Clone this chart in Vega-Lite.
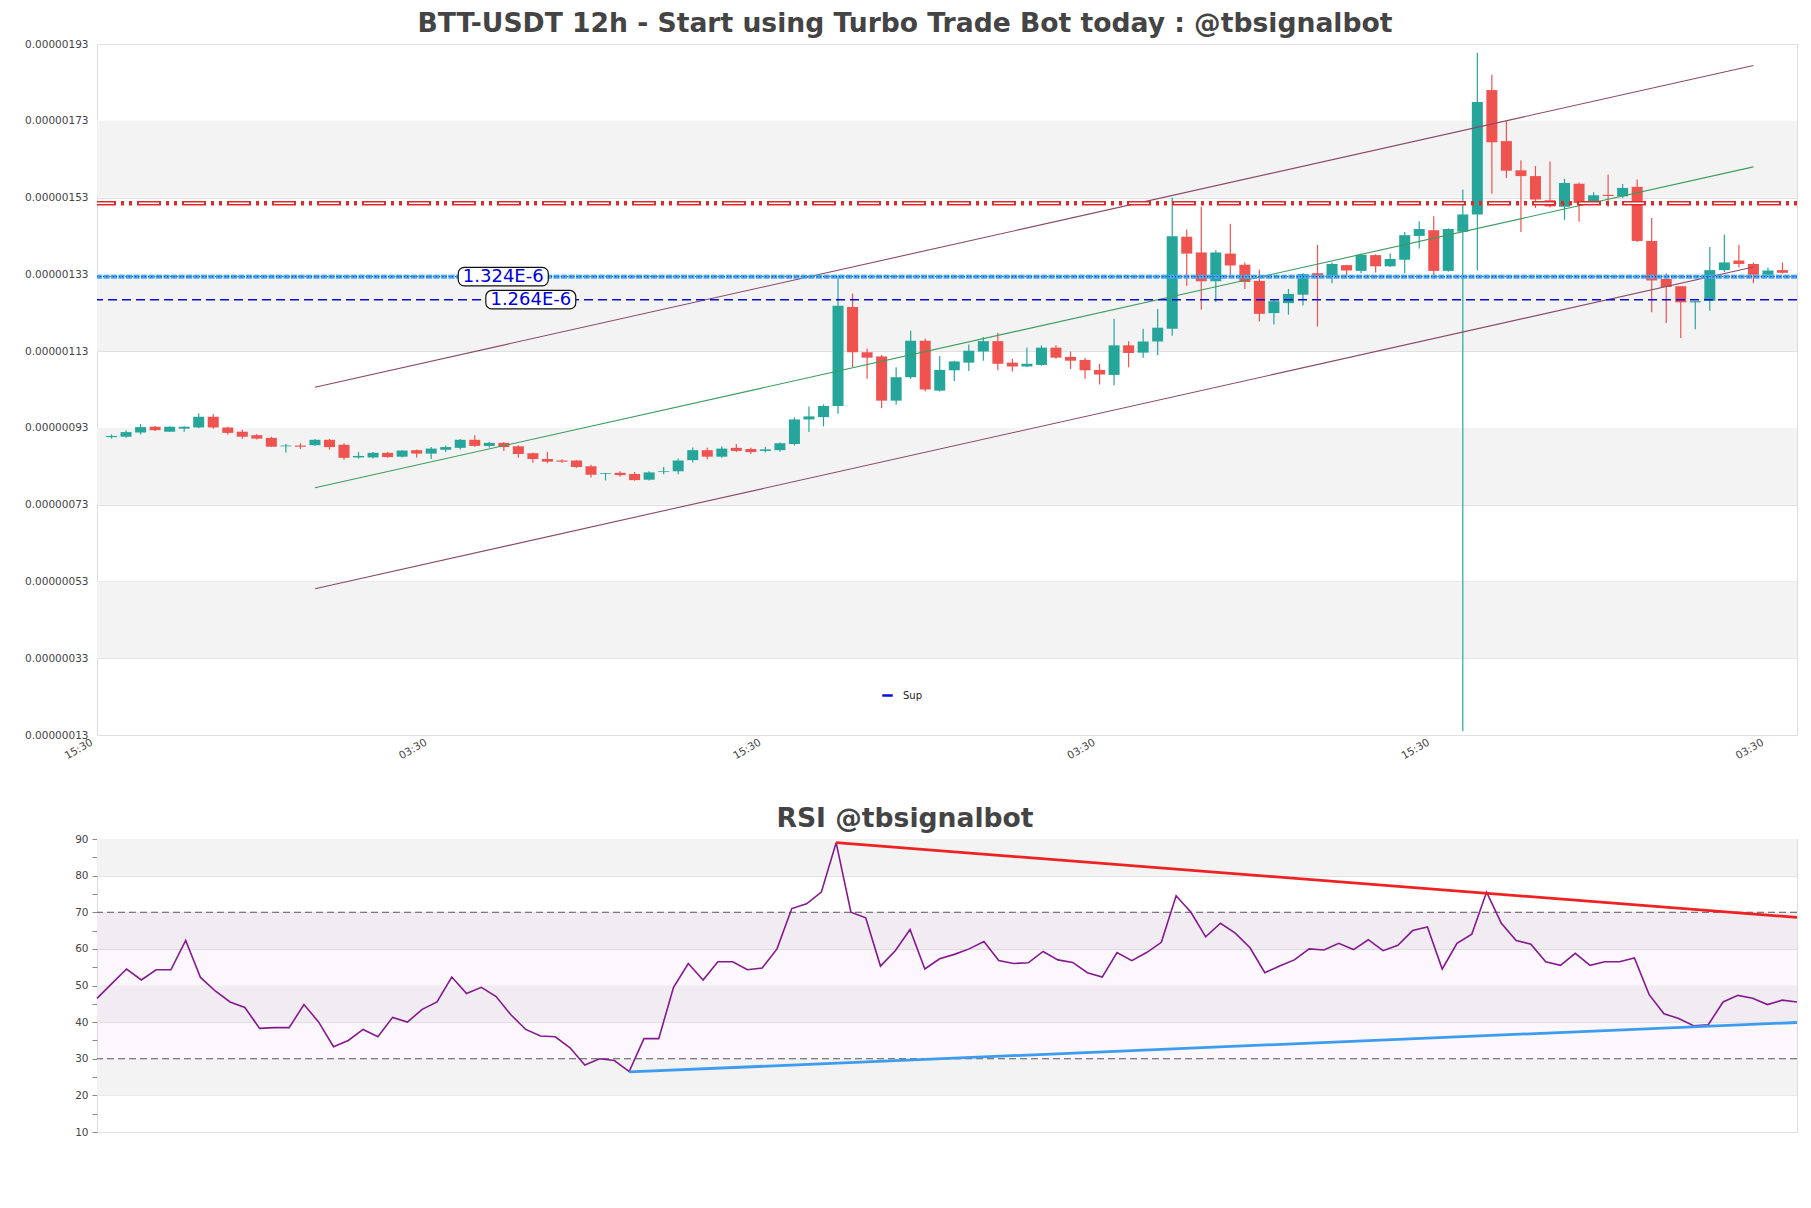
{
  "$schema": "https://vega.github.io/schema/vega-lite/v6.json",
  "background": "white",
  "padding": {"left": 24, "top": 10, "right": 14, "bottom": 0},
  "config": {
    "font": "DejaVu Sans",
    "view": {"stroke": "#dddddd", "strokeWidth": 1},
    "axis": {"labelFont": "DejaVu Sans", "labelColor": "#444444", "labelFontSize": 10.5, "domain": false},
    "title": {"font": "DejaVu Sans", "fontWeight": "bold", "fontSize": 26.6, "color": "#444444", "offset": 1, "anchor": "middle", "dx": -42},
    "legend": {"labelFont": "DejaVu Sans"}
  },
  "resolve": {"scale": {"color": "independent"}, "legend": {"color": "independent"}},
  "spacing": 43,
  "datasets": {
    "candles": [
      {"i":0,"o":9.06e-7,"h":9.13e-7,"l":9.02e-7,"c":9.09e-7},
      {"i":1,"o":9.07e-7,"h":9.24e-7,"l":9.04e-7,"c":9.19e-7},
      {"i":2,"o":9.18e-7,"h":9.40e-7,"l":9.13e-7,"c":9.32e-7},
      {"i":3,"o":9.33e-7,"h":9.35e-7,"l":9.22e-7,"c":9.24e-7},
      {"i":4,"o":9.20e-7,"h":9.34e-7,"l":9.19e-7,"c":9.33e-7},
      {"i":5,"o":9.28e-7,"h":9.34e-7,"l":9.20e-7,"c":9.33e-7},
      {"i":6,"o":9.31e-7,"h":9.68e-7,"l":9.29e-7,"c":9.59e-7},
      {"i":7,"o":9.59e-7,"h":9.66e-7,"l":9.28e-7,"c":9.31e-7},
      {"i":8,"o":9.31e-7,"h":9.33e-7,"l":9.13e-7,"c":9.17e-7},
      {"i":9,"o":9.20e-7,"h":9.25e-7,"l":9.02e-7,"c":9.07e-7},
      {"i":10,"o":9.11e-7,"h":9.14e-7,"l":9.00e-7,"c":9.02e-7},
      {"i":11,"o":9.04e-7,"h":9.07e-7,"l":8.80e-7,"c":8.81e-7},
      {"i":12,"o":8.82e-7,"h":8.88e-7,"l":8.66e-7,"c":8.84e-7},
      {"i":13,"o":8.84e-7,"h":8.90e-7,"l":8.75e-7,"c":8.81e-7},
      {"i":14,"o":8.85e-7,"h":9.01e-7,"l":8.83e-7,"c":8.99e-7},
      {"i":15,"o":8.99e-7,"h":9.01e-7,"l":8.73e-7,"c":8.80e-7},
      {"i":16,"o":8.86e-7,"h":8.90e-7,"l":8.47e-7,"c":8.52e-7},
      {"i":17,"o":8.53e-7,"h":8.67e-7,"l":8.50e-7,"c":8.57e-7},
      {"i":18,"o":8.53e-7,"h":8.67e-7,"l":8.50e-7,"c":8.65e-7},
      {"i":19,"o":8.65e-7,"h":8.67e-7,"l":8.52e-7,"c":8.54e-7},
      {"i":20,"o":8.55e-7,"h":8.72e-7,"l":8.53e-7,"c":8.71e-7},
      {"i":21,"o":8.72e-7,"h":8.74e-7,"l":8.53e-7,"c":8.63e-7},
      {"i":22,"o":8.63e-7,"h":8.80e-7,"l":8.49e-7,"c":8.76e-7},
      {"i":23,"o":8.73e-7,"h":8.84e-7,"l":8.67e-7,"c":8.80e-7},
      {"i":24,"o":8.78e-7,"h":9.01e-7,"l":8.74e-7,"c":8.99e-7},
      {"i":25,"o":8.99e-7,"h":9.11e-7,"l":8.81e-7,"c":8.83e-7},
      {"i":26,"o":8.83e-7,"h":8.93e-7,"l":8.79e-7,"c":8.91e-7},
      {"i":27,"o":8.91e-7,"h":8.93e-7,"l":8.70e-7,"c":8.80e-7},
      {"i":28,"o":8.82e-7,"h":8.85e-7,"l":8.52e-7,"c":8.62e-7},
      {"i":29,"o":8.64e-7,"h":8.66e-7,"l":8.39e-7,"c":8.49e-7},
      {"i":30,"o":8.49e-7,"h":8.67e-7,"l":8.38e-7,"c":8.42e-7},
      {"i":31,"o":8.45e-7,"h":8.48e-7,"l":8.39e-7,"c":8.42e-7},
      {"i":32,"o":8.45e-7,"h":8.46e-7,"l":8.26e-7,"c":8.28e-7},
      {"i":33,"o":8.30e-7,"h":8.34e-7,"l":8.01e-7,"c":8.08e-7},
      {"i":34,"o":8.10e-7,"h":8.13e-7,"l":7.93e-7,"c":8.12e-7},
      {"i":35,"o":8.13e-7,"h":8.17e-7,"l":8.03e-7,"c":8.07e-7},
      {"i":36,"o":8.10e-7,"h":8.15e-7,"l":7.92e-7,"c":7.94e-7},
      {"i":37,"o":7.95e-7,"h":8.17e-7,"l":7.93e-7,"c":8.14e-7},
      {"i":38,"o":8.15e-7,"h":8.28e-7,"l":8.09e-7,"c":8.17e-7},
      {"i":39,"o":8.17e-7,"h":8.50e-7,"l":8.09e-7,"c":8.45e-7},
      {"i":40,"o":8.46e-7,"h":8.79e-7,"l":8.40e-7,"c":8.72e-7},
      {"i":41,"o":8.72e-7,"h":8.78e-7,"l":8.48e-7,"c":8.55e-7},
      {"i":42,"o":8.55e-7,"h":8.82e-7,"l":8.52e-7,"c":8.76e-7},
      {"i":43,"o":8.78e-7,"h":8.88e-7,"l":8.67e-7,"c":8.70e-7},
      {"i":44,"o":8.75e-7,"h":8.78e-7,"l":8.62e-7,"c":8.67e-7},
      {"i":45,"o":8.70e-7,"h":8.80e-7,"l":8.66e-7,"c":8.74e-7},
      {"i":46,"o":8.72e-7,"h":8.92e-7,"l":8.68e-7,"c":8.90e-7},
      {"i":47,"o":8.88e-7,"h":9.57e-7,"l":8.84e-7,"c":9.52e-7},
      {"i":48,"o":9.52e-7,"h":9.86e-7,"l":9.19e-7,"c":9.60e-7},
      {"i":49,"o":9.58e-7,"h":9.91e-7,"l":9.34e-7,"c":9.87e-7},
      {"i":50,"o":9.87e-7,"h":13.27e-7,"l":9.67e-7,"c":12.48e-7},
      {"i":51,"o":12.45e-7,"h":12.80e-7,"l":10.88e-7,"c":11.27e-7},
      {"i":52,"o":11.27e-7,"h":11.37e-7,"l":10.58e-7,"c":11.13e-7},
      {"i":53,"o":11.16e-7,"h":11.20e-7,"l":9.81e-7,"c":10.01e-7},
      {"i":54,"o":10.01e-7,"h":10.88e-7,"l":9.90e-7,"c":10.62e-7},
      {"i":55,"o":10.62e-7,"h":11.83e-7,"l":10.58e-7,"c":11.57e-7},
      {"i":56,"o":11.57e-7,"h":11.62e-7,"l":10.25e-7,"c":10.30e-7},
      {"i":57,"o":10.27e-7,"h":11.17e-7,"l":10.25e-7,"c":10.81e-7},
      {"i":58,"o":10.80e-7,"h":11.05e-7,"l":10.52e-7,"c":11.03e-7},
      {"i":59,"o":11.00e-7,"h":11.47e-7,"l":10.78e-7,"c":11.31e-7},
      {"i":60,"o":11.29e-7,"h":11.67e-7,"l":11.05e-7,"c":11.56e-7},
      {"i":61,"o":11.56e-7,"h":11.78e-7,"l":10.80e-7,"c":10.97e-7},
      {"i":62,"o":11.00e-7,"h":11.10e-7,"l":10.77e-7,"c":10.90e-7},
      {"i":63,"o":10.90e-7,"h":11.39e-7,"l":10.88e-7,"c":10.97e-7},
      {"i":64,"o":10.94e-7,"h":11.45e-7,"l":10.92e-7,"c":11.39e-7},
      {"i":65,"o":11.39e-7,"h":11.45e-7,"l":11.10e-7,"c":11.13e-7},
      {"i":66,"o":11.15e-7,"h":11.29e-7,"l":10.83e-7,"c":11.05e-7},
      {"i":67,"o":11.07e-7,"h":11.13e-7,"l":10.58e-7,"c":10.80e-7},
      {"i":68,"o":10.81e-7,"h":10.97e-7,"l":10.43e-7,"c":10.69e-7},
      {"i":69,"o":10.68e-7,"h":12.14e-7,"l":10.41e-7,"c":11.45e-7},
      {"i":70,"o":11.45e-7,"h":11.56e-7,"l":10.88e-7,"c":11.25e-7},
      {"i":71,"o":11.26e-7,"h":11.88e-7,"l":11.13e-7,"c":11.55e-7},
      {"i":72,"o":11.55e-7,"h":12.40e-7,"l":11.19e-7,"c":11.91e-7},
      {"i":73,"o":11.88e-7,"h":15.30e-7,"l":11.70e-7,"c":14.29e-7},
      {"i":74,"o":14.28e-7,"h":14.47e-7,"l":13.00e-7,"c":13.84e-7},
      {"i":75,"o":13.87e-7,"h":15.06e-7,"l":12.38e-7,"c":13.12e-7},
      {"i":76,"o":13.12e-7,"h":13.93e-7,"l":12.58e-7,"c":13.87e-7},
      {"i":77,"o":13.84e-7,"h":14.62e-7,"l":13.29e-7,"c":13.53e-7},
      {"i":78,"o":13.55e-7,"h":13.61e-7,"l":12.92e-7,"c":13.10e-7},
      {"i":79,"o":13.13e-7,"h":13.42e-7,"l":12.07e-7,"c":12.27e-7},
      {"i":80,"o":12.29e-7,"h":12.65e-7,"l":11.99e-7,"c":12.60e-7},
      {"i":81,"o":12.55e-7,"h":12.92e-7,"l":12.25e-7,"c":12.79e-7},
      {"i":82,"o":12.77e-7,"h":13.33e-7,"l":12.49e-7,"c":13.31e-7},
      {"i":83,"o":13.33e-7,"h":14.07e-7,"l":11.94e-7,"c":13.26e-7},
      {"i":84,"o":13.26e-7,"h":13.61e-7,"l":13.07e-7,"c":13.57e-7},
      {"i":85,"o":13.54e-7,"h":13.55e-7,"l":13.20e-7,"c":13.40e-7},
      {"i":86,"o":13.39e-7,"h":13.84e-7,"l":13.33e-7,"c":13.81e-7},
      {"i":87,"o":13.80e-7,"h":13.82e-7,"l":13.35e-7,"c":13.51e-7},
      {"i":88,"o":13.51e-7,"h":13.84e-7,"l":13.49e-7,"c":13.70e-7},
      {"i":89,"o":13.68e-7,"h":14.40e-7,"l":13.33e-7,"c":14.32e-7},
      {"i":90,"o":14.30e-7,"h":14.68e-7,"l":13.97e-7,"c":14.48e-7},
      {"i":91,"o":14.45e-7,"h":14.81e-7,"l":13.25e-7,"c":13.39e-7},
      {"i":92,"o":13.39e-7,"h":14.50e-7,"l":13.37e-7,"c":14.48e-7},
      {"i":93,"o":14.41e-7,"h":15.51e-7,"l":1.40e-7,"c":14.86e-7},
      {"i":94,"o":14.86e-7,"h":19.07e-7,"l":13.40e-7,"c":17.79e-7},
      {"i":95,"o":18.10e-7,"h":18.50e-7,"l":15.40e-7,"c":16.74e-7},
      {"i":96,"o":16.77e-7,"h":17.29e-7,"l":15.81e-7,"c":16.00e-7},
      {"i":97,"o":16.01e-7,"h":16.27e-7,"l":14.40e-7,"c":15.86e-7},
      {"i":98,"o":15.86e-7,"h":16.12e-7,"l":15.03e-7,"c":15.25e-7},
      {"i":99,"o":15.23e-7,"h":16.24e-7,"l":15.04e-7,"c":15.07e-7},
      {"i":100,"o":15.06e-7,"h":15.79e-7,"l":14.71e-7,"c":15.68e-7},
      {"i":101,"o":15.66e-7,"h":15.69e-7,"l":14.67e-7,"c":15.16e-7},
      {"i":102,"o":15.16e-7,"h":15.44e-7,"l":15.12e-7,"c":15.36e-7},
      {"i":103,"o":15.37e-7,"h":15.90e-7,"l":15.06e-7,"c":15.34e-7},
      {"i":104,"o":15.33e-7,"h":15.65e-7,"l":15.29e-7,"c":15.55e-7},
      {"i":105,"o":15.58e-7,"h":15.77e-7,"l":14.14e-7,"c":14.17e-7},
      {"i":106,"o":14.17e-7,"h":14.77e-7,"l":12.31e-7,"c":13.14e-7},
      {"i":107,"o":13.18e-7,"h":13.33e-7,"l":12.03e-7,"c":12.97e-7},
      {"i":108,"o":12.99e-7,"h":12.99e-7,"l":11.64e-7,"c":12.57e-7},
      {"i":109,"o":12.57e-7,"h":12.60e-7,"l":11.87e-7,"c":12.60e-7},
      {"i":110,"o":12.61e-7,"h":14.01e-7,"l":12.35e-7,"c":13.41e-7},
      {"i":111,"o":13.41e-7,"h":14.33e-7,"l":13.36e-7,"c":13.61e-7},
      {"i":112,"o":13.66e-7,"h":14.07e-7,"l":13.48e-7,"c":13.57e-7},
      {"i":113,"o":13.57e-7,"h":13.61e-7,"l":13.07e-7,"c":13.29e-7},
      {"i":114,"o":13.29e-7,"h":13.48e-7,"l":13.22e-7,"c":13.40e-7},
      {"i":115,"o":13.41e-7,"h":13.61e-7,"l":13.32e-7,"c":13.34e-7}
    ],
    "rsi": [
      {"i":0,"r":46.5},{"i":1,"r":50.5},{"i":2,"r":54.5},{"i":3,"r":51.5},{"i":4,"r":54.3},
      {"i":5,"r":54.3},{"i":6,"r":62.3},{"i":7,"r":52.2},{"i":8,"r":48.5},{"i":9,"r":45.5},
      {"i":10,"r":44.0},{"i":11,"r":38.3},{"i":12,"r":38.5},{"i":13,"r":38.5},{"i":14,"r":44.8},
      {"i":15,"r":40.0},{"i":16,"r":33.3},{"i":17,"r":35.0},{"i":18,"r":38.0},{"i":19,"r":36.0},
      {"i":20,"r":41.3},{"i":21,"r":40.0},{"i":22,"r":43.5},{"i":23,"r":45.5},{"i":24,"r":52.3},
      {"i":25,"r":47.8},{"i":26,"r":49.5},{"i":27,"r":47.0},{"i":28,"r":42.0},{"i":29,"r":38.0},
      {"i":30,"r":36.2},{"i":31,"r":36.0},{"i":32,"r":33.0},{"i":33,"r":28.3},{"i":34,"r":30.0},
      {"i":35,"r":29.5},{"i":36,"r":26.5},{"i":37,"r":35.5},{"i":38,"r":35.5},{"i":39,"r":49.5},
      {"i":40,"r":56.0},{"i":41,"r":51.5},{"i":42,"r":56.5},{"i":43,"r":56.5},{"i":44,"r":54.3},
      {"i":45,"r":54.8},{"i":46,"r":60.0},{"i":47,"r":71.0},{"i":48,"r":72.3},{"i":49,"r":75.5},
      {"i":50,"r":89.0},{"i":51,"r":70.0},{"i":52,"r":68.5},{"i":53,"r":55.3},{"i":54,"r":59.5},
      {"i":55,"r":65.3},{"i":56,"r":54.5},{"i":57,"r":57.3},{"i":58,"r":58.5},{"i":59,"r":60.0},
      {"i":60,"r":62.0},{"i":61,"r":56.8},{"i":62,"r":56.0},{"i":63,"r":56.2},{"i":64,"r":59.3},
      {"i":65,"r":57.0},{"i":66,"r":56.3},{"i":67,"r":53.5},{"i":68,"r":52.3},{"i":69,"r":59.0},
      {"i":70,"r":56.8},{"i":71,"r":59.0},{"i":72,"r":61.8},{"i":73,"r":74.5},{"i":74,"r":70.0},
      {"i":75,"r":63.3},{"i":76,"r":67.0},{"i":77,"r":64.3},{"i":78,"r":60.3},{"i":79,"r":53.5},
      {"i":80,"r":55.3},{"i":81,"r":57.0},{"i":82,"r":60.0},{"i":83,"r":59.7},{"i":84,"r":61.5},
      {"i":85,"r":59.8},{"i":86,"r":62.5},{"i":87,"r":59.5},{"i":88,"r":61.0},{"i":89,"r":65.0},
      {"i":90,"r":66.0},{"i":91,"r":54.5},{"i":92,"r":61.5},{"i":93,"r":64.0},{"i":94,"r":75.5},
      {"i":95,"r":67.0},{"i":96,"r":62.3},{"i":97,"r":61.3},{"i":98,"r":56.5},{"i":99,"r":55.5},
      {"i":100,"r":58.8},{"i":101,"r":55.5},{"i":102,"r":56.5},{"i":103,"r":56.5},{"i":104,"r":57.5},
      {"i":105,"r":47.5},{"i":106,"r":42.3},{"i":107,"r":41.0},{"i":108,"r":39.0},{"i":109,"r":39.3},
      {"i":110,"r":45.5},{"i":111,"r":47.3},{"i":112,"r":46.5},{"i":113,"r":44.8},{"i":114,"r":46.0},
      {"i":115,"r":45.5}
    ],
    "priceBands": [
      {"lo":1.53e-6,"hi":1.73e-6},{"lo":1.13e-6,"hi":1.33e-6},{"lo":7.3e-7,"hi":9.3e-7},{"lo":3.3e-7,"hi":5.3e-7}
    ],
    "channels": [
      {"line":"upper","i":14,"p":1.036e-6},{"line":"upper","i":113,"p":1.874e-6},
      {"line":"mid","i":14,"p":7.74e-7},{"line":"mid","i":113,"p":1.610e-6},
      {"line":"lower","i":14,"p":5.11e-7},{"line":"lower","i":113,"p":1.349e-6}
    ],
    "levels": [
      {"name":"res","p":1.515e-6},{"name":"sup1","p":1.324e-6},{"name":"Sup","p":1.264e-6}
    ],
    "priceLabels": [
      {"label":"1.324E-6","p":1.324e-6,"at":26.96,"x1":23.86,"x2":30.06,"lo":1.300e-6,"hi":1.348e-6},
      {"label":"1.264E-6","p":1.264e-6,"at":28.86,"x1":25.76,"x2":31.95,"lo":1.240e-6,"hi":1.288e-6}
    ],
    "rsiBands": [
      {"lo":80,"hi":90},{"lo":60,"hi":70},{"lo":40,"hi":50},{"lo":20,"hi":30}
    ],
    "rsiZone": [{"lo":30,"hi":70}],
    "rsiLevels": [{"v":70},{"v":30}],
    "rsiTrend": [
      {"seg":"res","i":50,"r":89.0},{"seg":"res","i":115,"r":68.6},
      {"seg":"sup","i":36,"r":26.4},{"seg":"sup","i":115,"r":39.9}
    ]
  },
  "vconcat": [
    {
      "title": {"text": "BTT-USDT 12h - Start using Turbo Trade Bot today : @tbsignalbot"},
      "width": 1700,
      "height": 691,
      "layer": [
        {
          "data": {"name": "priceBands"},
          "mark": {"type": "rect", "color": "#f3f3f3"},
          "encoding": {
            "x": {"datum": -1, "type": "quantitative",
                  "scale": {"domain": [-1, 116], "nice": false, "zero": false, "padding": 0},
                  "axis": {"values": [-1, 22, 45, 68, 91, 114], "labelExpr": "(datum.value + 1) % 46 == 0 ? '15:30' : '03:30'", "labelAngle": -30, "ticks": false, "labelPadding": 2, "labelOffset": -8, "grid": false, "title": null}},
            "x2": {"datum": 116},
            "y": {"field": "lo", "type": "quantitative",
                  "scale": {"domain": [1.3e-7, 1.93e-6], "nice": false, "zero": false},
                  "axis": {"values": [1.3e-7, 3.3e-7, 5.3e-7, 7.3e-7, 9.3e-7, 1.13e-6, 1.33e-6, 1.53e-6, 1.73e-6, 1.93e-6], "format": ".8f", "ticks": false, "labelPadding": 9, "grid": true, "gridColor": "#e0e0e0", "title": null}},
            "y2": {"field": "hi"}
          }
        },
        {
          "data": {"name": "candles"},
          "mark": {"type": "rule", "strokeWidth": 1.2},
          "encoding": {
            "x": {"field": "i", "type": "quantitative"},
            "y": {"field": "l", "type": "quantitative"},
            "y2": {"field": "h"},
            "color": {"condition": {"test": "datum.c >= datum.o", "value": "#26a69a"}, "value": "#ef5350"}
          }
        },
        {
          "data": {"name": "candles"},
          "mark": {"type": "bar", "width": 11},
          "encoding": {
            "x": {"field": "i", "type": "quantitative"},
            "y": {"field": "o", "type": "quantitative"},
            "y2": {"field": "c"},
            "color": {"condition": {"test": "datum.c >= datum.o", "value": "#26a69a"}, "value": "#ef5350"}
          }
        },
        {
          "data": {"name": "channels"},
          "mark": {"type": "line", "strokeWidth": 1.1},
          "encoding": {
            "x": {"field": "i", "type": "quantitative"},
            "y": {"field": "p", "type": "quantitative"},
            "detail": {"field": "line"},
            "color": {"condition": {"test": "datum.line === 'mid'", "value": "#3b9c5c"}, "value": "#8a4a66"}
          }
        },
        {
          "data": {"name": "levels"},
          "transform": [{"filter": "datum.name === 'res'"}],
          "mark": {"type": "rule", "color": "#e02a2a", "strokeWidth": 4.5, "strokeDash": [3, 5, 3, 5, 24, 5]},
          "encoding": {"y": {"field": "p", "type": "quantitative"}}
        },
        {
          "data": {"name": "levels"},
          "transform": [{"filter": "datum.name === 'res'"}],
          "mark": {"type": "rule", "color": "#ffffff", "strokeWidth": 1.6, "strokeDash": [20, 25], "strokeDashOffset": 27},
          "encoding": {"y": {"field": "p", "type": "quantitative"}}
        },
        {
          "data": {"name": "levels"},
          "transform": [{"filter": "datum.name === 'sup1'"}],
          "mark": {"type": "rule", "color": "#45aaf7", "strokeWidth": 4, "strokeDash": [6, 1.5]},
          "encoding": {"y": {"field": "p", "type": "quantitative"}}
        },
        {
          "data": {"name": "levels"},
          "transform": [{"filter": "datum.name === 'sup1'"}],
          "mark": {"type": "rule", "color": "#1530b8", "strokeWidth": 1, "strokeDash": [1.2, 2]},
          "encoding": {"y": {"field": "p", "type": "quantitative"}}
        },
        {
          "data": {"name": "levels"},
          "transform": [{"filter": "datum.name === 'Sup'"}],
          "mark": {"type": "rule", "strokeWidth": 1.5, "strokeDash": [9, 5]},
          "encoding": {
            "y": {"field": "p", "type": "quantitative"},
            "color": {"field": "name", "type": "nominal",
                      "scale": {"domain": ["Sup"], "range": ["#0a0ae0"]},
                      "legend": {"orient": "none", "legendX": 784, "legendY": 645, "title": null, "symbolType": "stroke", "symbolStrokeWidth": 2.5, "symbolSize": 110, "symbolDash": [], "labelOffset": 9, "labelFontSize": 10, "labelColor": "#222222"}}
          }
        },
        {
          "data": {"name": "priceLabels"},
          "mark": {"type": "rect", "fill": "#ffffff", "stroke": "#111111", "strokeWidth": 1.2, "cornerRadius": 6},
          "encoding": {
            "x": {"field": "x1", "type": "quantitative"},
            "x2": {"field": "x2"},
            "y": {"field": "lo", "type": "quantitative"},
            "y2": {"field": "hi"}
          }
        },
        {
          "data": {"name": "priceLabels"},
          "mark": {"type": "text", "fontSize": 18, "color": "#0000dd", "align": "center", "baseline": "middle"},
          "encoding": {
            "x": {"field": "at", "type": "quantitative"},
            "y": {"field": "p", "type": "quantitative"},
            "text": {"field": "label"}
          }
        }
      ]
    },
    {
      "title": {"text": "RSI @tbsignalbot"},
      "width": 1700,
      "height": 293,
      "resolve": {"axis": {"y": "independent"}},
      "layer": [
        {
          "data": {"name": "rsiBands"},
          "mark": {"type": "rect", "color": "#f3f3f3"},
          "encoding": {
            "x": {"datum": 0, "type": "quantitative", "scale": {"domain": [0, 115], "nice": false, "zero": false, "padding": 0}, "axis": null},
            "x2": {"datum": 115},
            "y": {"field": "lo", "type": "quantitative",
                  "scale": {"domain": [10, 90], "nice": false, "zero": false},
                  "axis": {"orient": "left", "values": [10, 20, 30, 40, 50, 60, 70, 80, 90],
                           "labelOverlap": false,
                           "tickSize": 5, "tickColor": "#888888", "labelPadding": 4, "title": null,
                           "grid": true, "gridColor": "#e0e0e0"}},
            "y2": {"field": "hi"}
          }
        },
        {
          "data": {"name": "rsiZone"},
          "mark": {"type": "rect", "color": "#c99ad6", "opacity": 0.08},
          "encoding": {
            "x": {"datum": 0, "type": "quantitative"},
            "x2": {"datum": 115},
            "y": {"field": "lo", "type": "quantitative",
                  "axis": {"orient": "left", "values": [15, 25, 35, 45, 55, 65, 75, 85], "labels": false, "tickSize": 5, "tickColor": "#888888", "grid": false, "title": null}},
            "y2": {"field": "hi"}
          }
        },
        {
          "data": {"name": "rsiLevels"},
          "mark": {"type": "rule", "color": "#555555", "strokeWidth": 1.1, "strokeDash": [7, 4]},
          "encoding": {"y": {"field": "v", "type": "quantitative", "axis": null}}
        },
        {
          "data": {"name": "rsi"},
          "mark": {"type": "line", "color": "#86198f", "strokeWidth": 1.6},
          "encoding": {
            "x": {"field": "i", "type": "quantitative"},
            "y": {"field": "r", "type": "quantitative", "axis": null}
          }
        },
        {
          "data": {"name": "rsiTrend"},
          "mark": {"type": "line", "strokeWidth": 2.8},
          "encoding": {
            "x": {"field": "i", "type": "quantitative"},
            "y": {"field": "r", "type": "quantitative", "axis": null},
            "detail": {"field": "seg"},
            "color": {"condition": {"test": "datum.seg === 'res'", "value": "#ee2222"}, "value": "#3d9bf0"}
          }
        }
      ]
    }
  ]
}
